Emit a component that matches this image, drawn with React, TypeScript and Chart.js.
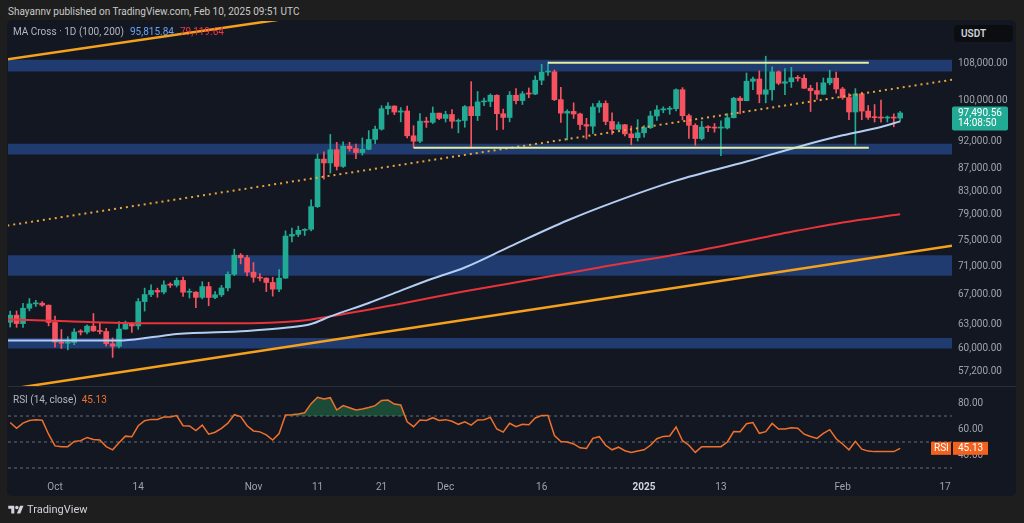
import React, { useEffect, useRef } from "react";
import { Chart, registerables } from "chart.js";

Chart.register(...registerables);

// ---------------- data (days counted from 1 Oct 2024) ----------------
const FIRST_DAY = -7; // 24 Sep 2024
const VIEW_START = -7.34;
const VIEW_END = 140.09;

const opens = [
  63330, 64260, 63150, 65180, 65770, 65870, 65600,
  63300, 60800, 60650, 60750, 62070, 62060, 62820, 62220, 62130, 60580,
  60270, 62450, 63200, 62850, 66080, 67050, 67620, 67400, 68400, 68360,
  69030, 67370, 67380, 66660, 68160, 66640, 67010, 67970, 69910, 72720, 72340,
  70220, 69480, 69360, 68740, 67800, 69360, 75640, 75900, 76540, 76700,
  80370, 88650, 87950, 90380, 87320, 91030, 90590, 89850, 90460, 92310,
  94290, 98350, 98890, 97670, 97900, 93010, 91970, 95860, 95640, 97460,
  96410, 97180, 95840, 96000, 98770, 96950, 99740, 99830, 101110, 97340,
  96590, 101120, 100000, 101420, 101370, 104300, 106060, 106140, 100200, 97460,
  97800, 97290, 95190, 94880, 98690, 99430, 95790, 94270, 95160, 93380, 92640,
  93580, 94590, 96890, 98110, 98240, 98360, 102280, 96950, 95040, 92480,
  94700, 94570, 94500, 94520, 96530, 100500, 99990, 104080, 104560, 101330,
  102260, 106140, 103650, 103960, 104820, 104710, 102590, 102080, 101330, 103730, 104740,
  102430, 100640, 97690, 101400, 97870, 96610, 96550, 96480, 96500, 96470,
];
const highs = [
  64800, 64820, 65840, 66500, 66260, 66080, 65620,
  64130, 62390, 61470, 62490, 62370, 62980, 64480, 63200, 62540, 61320,
  63420, 63480, 63270, 66500, 67950, 68420, 67940, 68970, 68690, 69400,
  69520, 67830, 67470, 68840, 68770, 67450, 68330, 70270, 73620, 72960, 72700,
  71630, 70000, 69420, 69490, 70580, 76460, 76900, 77200, 76800, 81500,
  89600, 89970, 93270, 91760, 91850, 91780, 91440, 92600, 94000, 94900,
  98960, 99590, 98950, 98580, 98870, 94970, 97360, 96650, 98690, 97460,
  97840, 98150, 96300, 99000, 104000, 101900, 100550, 101400, 101220, 98270,
  101900, 102540, 101900, 102650, 105250, 107780, 108350, 106520, 102800, 98150,
  99540, 97450, 96420, 99400, 99960, 99960, 97540, 95690, 95230, 94900, 96160,
  95000, 97840, 98980, 98730, 98810, 102480, 102720, 97260, 95350, 95840,
  95000, 95400, 95900, 97370, 100680, 100860, 105860, 104980, 106330, 109590,
  107240, 106330, 106850, 107120, 105290, 105470, 103220, 103780, 104780, 106460, 106090,
  102780, 101460, 102500, 101750, 99000, 99200, 100140, 96880, 97330, 97800,
];
const lows = [
  62700, 62670, 62670, 64830, 65420, 65430, 62860,
  60160, 59990, 59830, 60460, 61690, 61820, 62130, 61830, 60300, 58900,
  60080, 62420, 62000, 62420, 64800, 66750, 66670, 67150, 68030, 68100,
  66800, 66570, 65260, 66450, 65520, 66480, 66770, 67540, 69720, 71430, 69680,
  68780, 68960, 67460, 66830, 67440, 69320, 74720, 75550, 75730, 76460,
  80220, 85070, 86130, 86670, 87120, 90100, 88720, 89380, 90360, 91500,
  94090, 97180, 97150, 95720, 92600, 90790, 91700, 94620, 95380, 96150,
  95690, 94500, 93580, 94660, 90700, 95980, 98990, 98770, 94150, 94260,
  95720, 99310, 99210, 100610, 101230, 103340, 105320, 100000, 95590, 92230,
  96400, 94200, 92400, 93420, 97600, 95140, 93260, 94140, 93000, 91300, 92000,
  92740, 94400, 96000, 97530, 97230, 97900, 96100, 92500, 91200, 92200,
  93800, 93700, 89260, 94320, 96500, 97290, 99950, 102280, 99560, 99550,
  100120, 103330, 101260, 102750, 104100, 102500, 97780, 100270, 101320, 103320, 101560,
  100280, 96150, 91230, 96150, 96210, 95680, 95650, 95690, 94750, 95900,
];
const closes = [
  64260, 63150, 65180, 65770, 65870, 65600, 63300,
  60800, 60650, 60750, 62070, 62060, 62820, 62220, 62130, 60580, 60270,
  62450, 63200, 62850, 66080, 67050, 67620, 67400, 68400, 68360, 69030,
  67370, 67380, 66660, 68160, 66640, 67010, 67970, 69910, 72720, 72340, 70220,
  69480, 69360, 68740, 67800, 69360, 75640, 75900, 76540, 76700, 80370,
  88650, 87950, 90380, 87320, 91030, 90590, 89850, 90460, 92310, 94290,
  98350, 98890, 97670, 97900, 93010, 91970, 95860, 95640, 97460, 96410,
  97180, 95840, 96000, 98770, 96950, 99740, 99830, 101110, 97340, 96590,
  101120, 100000, 101420, 101370, 104300, 106060, 106140, 100200, 97460, 97800,
  97290, 95190, 94880, 98690, 99430, 95790, 94270, 95160, 93380, 92640, 93580,
  94590, 96890, 98110, 98240, 98360, 102280, 96950, 95040, 92480, 94700,
  94570, 94500, 94520, 96530, 100500, 99990, 104080, 104560, 101330, 102260,
  106140, 103650, 103960, 104820, 104710, 102590, 102080, 101330, 103730, 104740, 102430,
  100640, 97690, 101400, 97870, 96610, 96550, 96480, 96500, 96470, 97490.56,
];

const rsiValues = [
  65, 60.5, 64.5, 66.5, 67.2, 66.8, 56,
  47, 46.4, 46.4, 50.5, 51, 53.5, 52, 51.5, 46.5, 44,
  49.5, 54.5, 54, 62.5, 66.4, 67.4, 67.4, 69.2, 69.2, 70.3,
  62.5, 62.3, 58.8, 63, 56, 57.5, 60.5, 64.5, 71, 69.5, 62.5,
  58.5, 57.8, 55.5, 51.5, 56.5, 70.8, 71, 71.5, 72.5, 79.5,
  84.4, 83.1, 84.1, 74.6, 78, 76.4, 74.6, 75.4, 76.5, 78,
  82, 82.3, 79.2, 78.5, 65.6, 61.8, 66.9, 66.5, 68.7, 66.5,
  67.2, 66, 63.6, 65.5, 63, 67, 67.2, 69, 60, 57.6,
  64.4, 61.8, 63.6, 63.3, 68.5, 70.3, 70.3, 55, 50.3, 50,
  48.5, 45.5, 45.1, 52.8, 54.1, 47.5, 44, 46, 43.3, 42, 43,
  44, 47.5, 52.5, 54.3, 54.6, 61.5, 51, 47.5, 42, 46.4,
  46.4, 46.4, 46.4, 50, 58, 57.9, 64, 65, 56.7, 58,
  64.3, 60, 60, 61, 60.6, 56, 54.2, 52.8, 56.7, 59.5, 52.5,
  48.5, 44, 50.5, 44.5, 43, 42.6, 42.6, 42.6, 42.6, 45.13,
];

const ma100Days = [-7.34, 10, 15, 19, 30, 36, 40, 43, 49, 54, 59, 64, 71, 80, 87, 97, 108, 116, 123, 129, 132];
const ma100Values = [61000, 61000, 61400, 61800, 62200, 62600, 63100, 64100, 65900, 67600, 69300, 70900, 74000, 78100, 81000, 84800, 88200, 90900, 93100, 94700, 95815.84];
const ma200Days = [-7.34, 2, 12, 28, 38, 43, 54, 64, 71, 85, 101, 116, 123, 132];
const ma200Values = [63700, 63450, 63200, 63200, 63500, 64100, 65800, 67500, 68600, 70900, 73500, 76500, 77800, 79119.64];

const zoneTops = [108800, 91500, 72700, 61300];
const zoneBottoms = [106200, 89500, 69700, 60000];

const upperTrendDays = [-7.45, 40];
const upperTrendPrices = [108900, 119300];
const lowerTrendDays = [-7.4, 140.09];
const lowerTrendPrices = [55150, 74160];
const dottedTrendDays = [-7.45, 140.09];
const dottedTrendPrices = [77300, 104400];
const rangeHighDays = [77, 127.1];
const rangeHighPrice = 108100;
const rangeLowDays = [56, 127.1];
const rangeLowPrice = 90750;

const priceTicks = [57200, 60000, 63000, 67000, 71000, 75000, 79000, 83000, 87000, 92000, 100000, 108000];
const rsiTicks = [40, 60, 80];
const rsiLevels = [70, 50, 30];
const timeTickDays = [0, 13, 31, 41, 51, 61, 76, 92, 104, 123, 139];
const timeTickLabels = ["Oct", "14", "Nov", "11", "21", "Dec", "16", "2025", "13", "Feb", "17"];

// ---------------- styles ----------------
const FONT = "Roboto, 'Noto Sans', sans-serif";
const OUTER_BG = "#1e1e1e";
const PANEL_BG = "#131722";
const UP = "#22ab94";
const DOWN = "#f7525f";
const ZONE = "#1f3b70";
const ORANGE = "#f6a11c";
const DOTTED = "#e9a43c";
const RANGE = "#e6ee9c";
const MA100_COLOR = "#b3cdf3";
const MA200_COLOR = "#e8333a";
const RSI_COLOR = "#f0712c";
const RSI_TAG = "#f2621f";
const AXIS_TEXT = "#a0a3ab";

const fmt2 = (v: number) =>
  v.toLocaleString("en-US", { minimumFractionDigits: 2, maximumFractionDigits: 2 });

const line = (days: number[], values: number[]) => days.map((d, i) => ({ x: d, y: values[i] }));

function priceConfig(): any {
  const days = closes.map((_, i) => FIRST_DAY + i);
  const colors = closes.map((c, i) => (c >= opens[i] ? UP : DOWN));
  const datasets: any[] = [];
  zoneTops.forEach((top, i) => {
    datasets.push({
      type: "line",
      data: [
        { x: VIEW_START, y: top },
        { x: VIEW_END, y: top },
      ],
      borderWidth: 0,
      borderColor: "rgba(0,0,0,0)",
      pointRadius: 0,
      backgroundColor: ZONE,
      fill: { value: zoneBottoms[i] },
      order: 20,
    });
  });
  datasets.push({
    type: "bar",
    data: days.map((d, i) => ({ x: d, y: [lows[i], highs[i]] })),
    backgroundColor: colors,
    borderWidth: 0,
    barThickness: 1,
    grouped: false,
    order: 9,
  });
  datasets.push({
    type: "bar",
    data: days.map((d, i) => ({ x: d, y: [opens[i], closes[i]] })),
    backgroundColor: colors,
    borderWidth: 0,
    barThickness: 5,
    minBarLength: 1,
    grouped: false,
    order: 8,
  });
  const lineDs = (data: any[], color: string, width: number, order: number, extra: any = {}) => ({
    type: "line",
    data,
    borderColor: color,
    borderWidth: width,
    pointRadius: 0,
    fill: false,
    order,
    ...extra,
  });
  datasets.push(lineDs(line(ma200Days, ma200Values), MA200_COLOR, 2, 6, { cubicInterpolationMode: "monotone" }));
  datasets.push(lineDs(line(ma100Days, ma100Values), MA100_COLOR, 2, 5, { cubicInterpolationMode: "monotone" }));
  datasets.push(lineDs(line(dottedTrendDays, dottedTrendPrices), DOTTED, 2, 4, { borderDash: [2, 4] }));
  datasets.push(lineDs(line(upperTrendDays, upperTrendPrices), ORANGE, 2.5, 3));
  datasets.push(lineDs(line(lowerTrendDays, lowerTrendPrices), ORANGE, 2.5, 3));
  datasets.push(lineDs(line(rangeHighDays, [rangeHighPrice, rangeHighPrice]), RANGE, 2, 2));
  datasets.push(lineDs(line(rangeLowDays, [rangeLowPrice, rangeLowPrice]), RANGE, 2, 2));

  const lastTag = {
    id: "lastTag",
    afterDraw(chart: any) {
      const { ctx, chartArea, scales } = chart;
      const last = closes[closes.length - 1];
      const y = scales.y.getPixelForValue(last);
      const x = chartArea.right;
      ctx.save();
      ctx.fillStyle = last >= opens[opens.length - 1] ? UP : DOWN;
      ctx.beginPath();
      ctx.roundRect(x, y - 6.5, 56, 24, 2);
      ctx.fill();
      ctx.fillStyle = "#ffffff";
      ctx.font = `10px ${FONT}`;
      ctx.textBaseline = "middle";
      ctx.textAlign = "left";
      ctx.fillText(fmt2(last), x + 6, y + 0.5);
      ctx.fillText("14:08:50", x + 6, y + 11);
      ctx.restore();
    },
  };

  return {
    type: "line",
    data: { datasets },
    plugins: [lastTag],
    options: {
      animation: false,
      responsive: false,
      events: [],
      layout: { padding: 0 },
      plugins: { legend: { display: false }, tooltip: { enabled: false } },
      scales: {
        x: { type: "linear", min: VIEW_START, max: VIEW_END, display: false, offset: false },
        y: {
          type: "logarithmic",
          position: "right",
          min: 55530,
          max: 117840,
          grid: { display: false, drawTicks: false },
          border: { display: false },
          afterBuildTicks: (s: any) => {
            s.ticks = priceTicks.map((v) => ({ value: v }));
          },
          afterFit: (s: any) => {
            s.width = 64;
            s.paddingTop = 0;
            s.paddingBottom = 0;
          },
          ticks: {
            color: AXIS_TEXT,
            font: { family: FONT, size: 10 },
            padding: 6,
            autoSkip: false,
            callback: (v: any) => fmt2(Number(v)),
          },
        },
      },
    },
  };
}

function rsiConfig(): any {
  const days = rsiValues.map((_, i) => FIRST_DAY + i);
  const datasets: any[] = rsiLevels.map((lv) => ({
    type: "line",
    data: [
      { x: VIEW_START, y: lv },
      { x: VIEW_END, y: lv },
    ],
    borderColor: "#6a6d78",
    borderWidth: 1,
    borderDash: [3, 3],
    pointRadius: 0,
    fill: false,
    order: 5,
  }));
  datasets.push({
    type: "line",
    data: days.map((d, i) => ({ x: d, y: rsiValues[i] })),
    borderColor: RSI_COLOR,
    borderWidth: 1.5,
    pointRadius: 0,
    fill: { target: { value: 70 }, above: "rgba(38,140,80,0.45)", below: "rgba(0,0,0,0)" },
    order: 1,
  });

  const rsiTag = {
    id: "rsiTag",
    afterDraw(chart: any) {
      const { ctx, chartArea, scales } = chart;
      const v = rsiValues[rsiValues.length - 1];
      const y = scales.y.getPixelForValue(v);
      ctx.save();
      ctx.fillStyle = RSI_TAG;
      ctx.fillRect(chartArea.right - 21, y - 6.5, 20, 13);
      ctx.fillRect(chartArea.right + 1, y - 6.5, 35, 13);
      ctx.fillStyle = "#ffffff";
      ctx.font = `10px ${FONT}`;
      ctx.textBaseline = "middle";
      ctx.textAlign = "left";
      ctx.fillText("RSI", chartArea.right - 18, y + 0.5);
      ctx.fillText(v.toFixed(2), chartArea.right + 6, y + 0.5);
      ctx.restore();
    },
  };

  return {
    type: "line",
    data: { datasets },
    plugins: [rsiTag],
    options: {
      animation: false,
      responsive: false,
      events: [],
      layout: { padding: 0 },
      plugins: { legend: { display: false }, tooltip: { enabled: false } },
      scales: {
        x: {
          type: "linear",
          min: VIEW_START,
          max: VIEW_END,
          offset: false,
          position: "bottom",
          grid: { display: false, drawTicks: false },
          border: { display: false },
          afterBuildTicks: (s: any) => {
            s.ticks = timeTickDays.map((v) => ({ value: v }));
          },
          afterFit: (s: any) => {
            s.height = 18;
            s.paddingLeft = 0;
            s.paddingRight = 0;
          },
          ticks: {
            autoSkip: false,
            maxRotation: 0,
            padding: 4,
            color: (c: any) => (timeTickLabels[c.index] === "2025" ? "#d1d4dc" : AXIS_TEXT),
            font: (c: any) => ({
              family: FONT,
              size: 10,
              weight: timeTickLabels[c.index] === "2025" ? "bold" : "normal",
            }),
            callback: (_v: any, i: number) => timeTickLabels[i],
          },
        },
        y: {
          type: "linear",
          position: "right",
          min: 23.08,
          max: 92.31,
          grid: { display: false, drawTicks: false },
          border: { display: false },
          afterBuildTicks: (s: any) => {
            s.ticks = rsiTicks.map((v) => ({ value: v }));
          },
          afterFit: (s: any) => {
            s.width = 64;
            s.paddingTop = 0;
            s.paddingBottom = 0;
          },
          ticks: {
            color: AXIS_TEXT,
            font: { family: FONT, size: 10 },
            padding: 6,
            autoSkip: false,
            callback: (v: any) => Number(v).toFixed(2),
          },
        },
      },
    },
  };
}

export default function App() {
  const priceRef = useRef<HTMLCanvasElement>(null);
  const rsiRef = useRef<HTMLCanvasElement>(null);

  useEffect(() => {
    document.body.style.margin = "0";
    document.body.style.background = OUTER_BG;
    const p = new Chart(priceRef.current as HTMLCanvasElement, priceConfig());
    const r = new Chart(rsiRef.current as HTMLCanvasElement, rsiConfig());
    return () => {
      p.destroy();
      r.destroy();
    };
  }, []);

  const abs = (l: number, t: number, extra: any = {}) => ({ position: "absolute" as const, left: l, top: t, ...extra });

  return (
    <div
      style={{
        position: "relative",
        width: 1024,
        height: 523,
        background: OUTER_BG,
        overflow: "hidden",
        fontFamily: FONT,
        fontSize: 10,
        color: "#c8c8c8",
      }}
    >
      <div style={abs(8, 5, { lineHeight: "14px", whiteSpace: "nowrap", color: "#c9cacc" })}>
        Shayannv published on TradingView.com, Feb 10, 2025 09:51 UTC
      </div>
      <div style={abs(7, 20, { width: 1009, height: 476, background: PANEL_BG, borderRadius: 5 })} />
      <canvas ref={priceRef} width={1008} height={365} style={abs(8, 21)} />
      <div style={abs(8, 386, { width: 1008, height: 1, background: "#2a2e39" })} />
      <canvas ref={rsiRef} width={1008} height={108} style={abs(8, 387)} />

      <div style={abs(13, 25, { lineHeight: "14px", whiteSpace: "nowrap", color: "#b2b5be" })}>
        MA Cross · 1D (100, 200)
        <span style={{ color: "#6ea2f0", marginLeft: 6 }}>95,815.84</span>
        <span style={{ color: "#f23645", marginLeft: 6 }}>79,119.64</span>
      </div>
      <div
        style={abs(954, 25, {
          width: 59,
          height: 17,
          background: "#0c0d10",
          borderRadius: 4,
          color: "#d1d4dc",
          fontWeight: 600,
          lineHeight: "17px",
          paddingLeft: 7,
          boxSizing: "border-box",
        })}
      >
        USDT
      </div>
      <div style={abs(13, 393, { lineHeight: "14px", whiteSpace: "nowrap", color: "#b2b5be" })}>
        RSI (14, close)
        <span style={{ color: RSI_COLOR, marginLeft: 5 }}>45.13</span>
      </div>

      <div style={abs(8, 503, { display: "flex", alignItems: "center", gap: 3, color: "#d1d4dc", fontSize: 11 })}>
        <svg width="16" height="12" viewBox="0 0 36 28">
          <path d="M14 22H7V11H0V4h14v18zM28 22h-8l7.5-18h8L28 22z" fill="#d1d4dc" />
          <circle cx="20" cy="8" r="4" fill="#d1d4dc" />
        </svg>
        <span>TradingView</span>
      </div>
    </div>
  );
}
